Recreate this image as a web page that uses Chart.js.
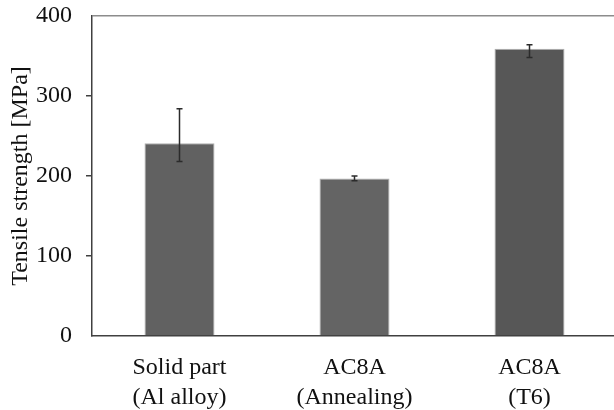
<!DOCTYPE html>
<html>
<head>
<meta charset="utf-8">
<script src="https://cdn.jsdelivr.net/npm/chart.js@4.4.0/dist/chart.umd.min.js"></script>
<style>
  html, body { margin: 0; padding: 0; background: #fff; overflow: hidden; }
  #wrap { width: 618px; height: 410px; }
</style>
</head>
<body>
<div id="wrap"><canvas id="mainChart" width="618" height="410"></canvas></div>
<script>
// Chart data
const categories = [['Solid part', '(Al alloy)'], ['AC8A', '(Annealing)'], ['AC8A', '(T6)']];
const strength = [241, 197, 359];
const errHigh = [284, 200, 364];
const errLow = [218, 194, 348];
const yTicks = [0, 100, 200, 300, 400];
const barColors = ['#616161', '#646464', '#575757'];

// error bars drawn from the y scale
const errorBars = {
    id: 'errorBars',
    afterDatasetsDraw(chart) {
        const ctx = chart.ctx;
        const y = chart.scales.y;
        const meta = chart.getDatasetMeta(0);
        ctx.save();
        ctx.strokeStyle = '#2b2b2b';
        ctx.lineWidth = 1.5;
        meta.data.forEach((bar, i) => {
            const top = y.getPixelForValue(errHigh[i]);
            const bottom = y.getPixelForValue(errLow[i]);
            ctx.beginPath();
            ctx.moveTo(bar.x, top);
            ctx.lineTo(bar.x, bottom);
            ctx.moveTo(bar.x - 3, top);
            ctx.lineTo(bar.x + 3, top);
            ctx.moveTo(bar.x - 3, bottom);
            ctx.lineTo(bar.x + 3, bottom);
            ctx.stroke();
        });
        ctx.restore();
    }
};

const font = { family: "'Liberation Serif', 'Times New Roman', serif", size: 24 };

new Chart(document.getElementById('mainChart').getContext('2d'), {
    type: 'bar',
    data: {
        labels: categories,
        datasets: [{
            data: strength,
            backgroundColor: barColors,
            borderColor: '#b0b0b0',
            borderWidth: 1,
            categoryPercentage: 1,
            barPercentage: 0.4
        }]
    },
    options: {
        responsive: false,
        animation: false,
        layout: { padding: { top: 16, right: 1, bottom: 0, left: 0 } },
        plugins: {
            legend: { display: false },
            tooltip: { enabled: false }
        },
        scales: {
            x: {
                grid: { display: false, drawTicks: false },
                border: { color: '#404040', width: 1.5 },
                afterFit: (scale) => { scale.height = 74; },
                ticks: {
                    color: '#111',
                    font: { ...font, lineHeight: 1.25 },
                    padding: 17,
                    maxRotation: 0,
                    autoSkip: false
                }
            },
            y: {
                min: 0,
                max: 400,
                afterBuildTicks: (scale) => {
                    scale.ticks = yTicks.map(v => ({ value: v }));
                },
                afterFit: (scale) => {
                    scale.width = 92;
                    scale.paddingTop = 0;
                    scale.paddingBottom = 0;
                },
                border: { color: '#404040', width: 1.5 },
                grid: {
                    drawOnChartArea: true,
                    tickLength: 6,
                    color: (c) => c.tick && c.tick.value === 400 ? '#8c8c8c' : 'rgba(0,0,0,0)',
                    tickColor: (c) => c.tick && (c.tick.value === 0 || c.tick.value === 400) ? 'rgba(0,0,0,0)' : '#404040',
                    lineWidth: 1.5
                },
                ticks: {
                    color: '#111',
                    font: font,
                    padding: 14
                },
                title: {
                    display: true,
                    text: 'Tensile strength [MPa]',
                    color: '#111',
                    font: font,
                    padding: { top: 6, bottom: 0 }
                }
            }
        }
    },
    plugins: [errorBars]
});
</script>
</body>
</html>
